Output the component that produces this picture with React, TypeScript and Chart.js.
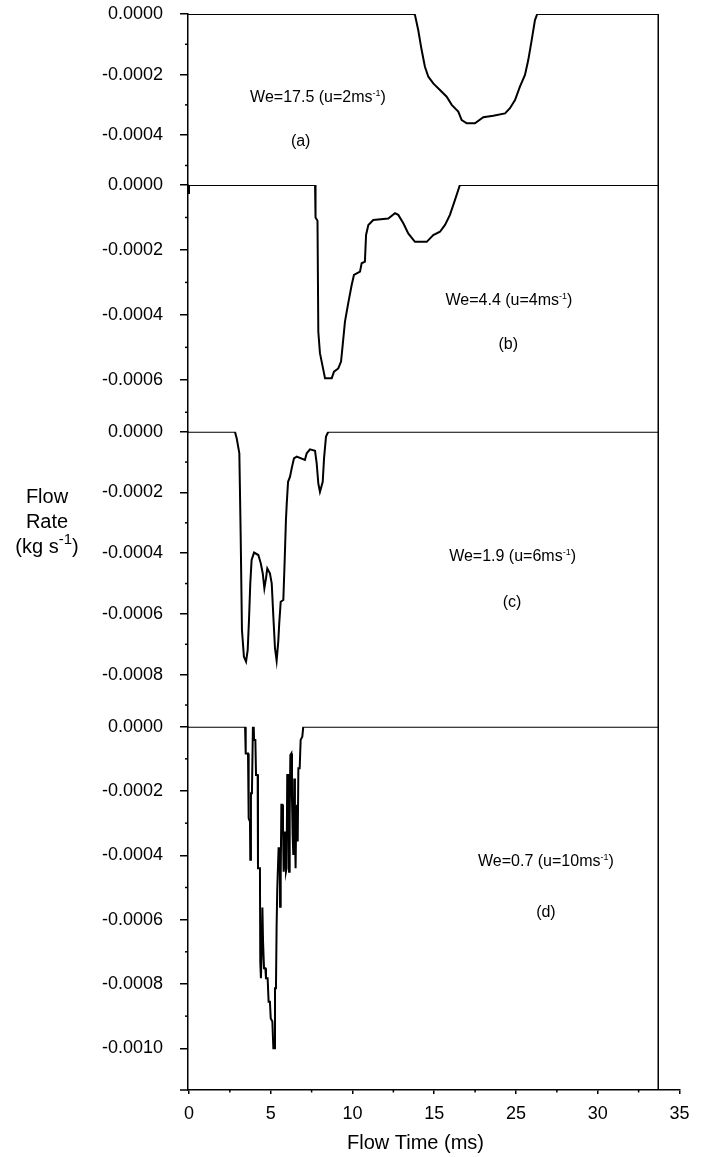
import { useEffect, useRef } from "react";
import { Chart, registerables } from "chart.js";

Chart.register(...registerables);

const FONT = '"Liberation Sans", Arial, Helvetica, sans-serif';

// x axis: evenly spaced tick positions, labels as printed in the figure
const xTickValues = [0, 5, 10, 15, 20, 25, 30];
const xTickLabels = ["0", "5", "10", "15", "25", "30", "35"];
const xMinorTicks = [2.5, 7.5, 12.5, 17.5, 22.5, 27.5];

// y ticks per panel
const yTicksA = [0, -0.0002, -0.0004];
const yTicksB = [0, -0.0002, -0.0004, -0.0006];
const yTicksC = [0, -0.0002, -0.0004, -0.0006, -0.0008];
const yTicksD = [0, -0.0002, -0.0004, -0.0006, -0.0008, -0.001];
const yMinorA = [-0.0001, -0.0003, -0.0005];
const yMinorB = [-0.0001, -0.0003, -0.0005, -0.0007];
const yMinorC = [-0.0001, -0.0003, -0.0005, -0.0007, -0.0009];
const yMinorD = [-0.0001, -0.0003, -0.0005, -0.0007, -0.0009];

// panel (a) We=17.5
const timeA = [-0.06, 13.72, 13.82, 14.02, 14.23, 14.43, 14.64, 14.94, 15.35, 15.76, 16.07, 16.47, 16.68, 16.99, 17.49, 18.0, 18.61, 19.33, 19.63, 19.94, 20.24, 20.55, 20.75, 20.96, 21.16, 21.3, 28.7];
const flowA = [0, 0, -0.000003, -0.000053, -0.000119, -0.000174, -0.000207, -0.000229, -0.000251, -0.000273, -0.0003, -0.000322, -0.00035, -0.000361, -0.000361, -0.000341, -0.000336, -0.000328, -0.000311, -0.000284, -0.00024, -0.000201, -0.000152, -0.000086, -0.00002, 0, 0];

// panel (b) We=4.4
const timeB = [-0.06, 0, 7.71, 7.74, 7.86, 7.91, 8.01, 8.18, 8.32, 8.73, 8.87, 9.13, 9.3, 9.4, 9.54, 9.74, 9.95, 10.09, 10.46, 10.56, 10.76, 10.83, 10.97, 11.27, 12.19, 12.6, 12.8, 13.11, 13.41, 13.82, 14.54, 14.94, 15.35, 15.66, 15.96, 16.27, 16.57, 28.7];
const flowB = [-0.000025, 0, 0, -0.0001, -0.00011, -0.000452, -0.000518, -0.00056, -0.000595, -0.000595, -0.000575, -0.000565, -0.000544, -0.000493, -0.000421, -0.000364, -0.000308, -0.000277, -0.000267, -0.000241, -0.000236, -0.000154, -0.000123, -0.000108, -0.000103, -0.000087, -0.000092, -0.000118, -0.000149, -0.000175, -0.000175, -0.000154, -0.000144, -0.000123, -0.000092, -0.000046, 0, 0];

// panel (c) We=1.9
const timeC = [-0.06, 2.81, 2.92, 3.08, 3.16, 3.24, 3.36, 3.49, 3.59, 3.67, 3.75, 3.83, 3.98, 4.24, 4.39, 4.51, 4.61, 4.71, 4.79, 4.95, 5.06, 5.16, 5.26, 5.36, 5.46, 5.52, 5.61, 5.77, 5.85, 5.93, 5.98, 6.06, 6.18, 6.28, 6.42, 6.59, 7.09, 7.2, 7.4, 7.71, 7.81, 7.91, 8.01, 8.18, 8.26, 8.38, 8.52, 28.7];
const flowC = [0, 0, -0.000022, -0.000071, -0.000335, -0.000653, -0.000741, -0.000757, -0.000719, -0.00062, -0.000499, -0.000422, -0.000398, -0.000406, -0.000433, -0.000466, -0.000516, -0.000483, -0.00045, -0.000466, -0.000499, -0.000609, -0.000713, -0.000754, -0.000691, -0.000631, -0.00056, -0.000554, -0.000428, -0.000291, -0.000236, -0.000165, -0.000148, -0.000121, -0.000088, -0.000082, -0.000093, -0.000071, -0.000058, -0.000063, -0.000104, -0.00017, -0.000198, -0.000165, -0.000088, -0.000016, 0, 0];

// panel (d) We=0.7
const timeD = [-0.06, 3.43, 3.47, 3.61, 3.63, 3.67, 3.73, 3.75, 3.79, 3.85, 3.91, 3.96, 3.98, 4.06, 4.1, 4.2, 4.22, 4.34, 4.36, 4.4, 4.46, 4.49, 4.53, 4.59, 4.67, 4.71, 4.81, 4.87, 4.95, 5.0, 5.1, 5.16, 5.22, 5.26, 5.32, 5.36, 5.4, 5.48, 5.55, 5.57, 5.61, 5.65, 5.71, 5.75, 5.79, 5.83, 5.87, 5.93, 5.97, 6.01, 6.08, 6.12, 6.16, 6.2, 6.26, 6.3, 6.34, 6.38, 6.44, 6.48, 6.52, 6.56, 6.61, 6.65, 6.69, 6.77, 6.83, 6.93, 6.99, 28.7];
const flowD = [0, 0, -0.000083, -0.000083, -0.000192, -0.000285, -0.000295, -0.000414, -0.000207, -0.000207, 0, 0, -0.000041, -0.000041, -0.00015, -0.00015, -0.00044, -0.00044, -0.000731, -0.000782, -0.000668, -0.000562, -0.000668, -0.000751, -0.000751, -0.000782, -0.000782, -0.000855, -0.000855, -0.000907, -0.000917, -0.001, -0.001, -0.000813, -0.000813, -0.000617, -0.000503, -0.000378, -0.000378, -0.00056, -0.000461, -0.000243, -0.000243, -0.000306, -0.000451, -0.000409, -0.000326, -0.000451, -0.00044, -0.00015, -0.00015, -0.000451, -0.000275, -0.000088, -0.000083, -0.000223, -0.000337, -0.000399, -0.000161, -0.000326, -0.00044, -0.000275, -0.000243, -0.000357, -0.000129, -0.000129, -0.000041, -0.000031, 0, 0];

// right-hand frame line
const frameTime = [28.7, 28.7];
const frameLevel = [0, 1];

// annotations
const panelAxes = ["yA", "yB", "yC", "yD"];
const weberMain = ["We=17.5 (u=2ms", "We=4.4 (u=4ms", "We=1.9 (u=6ms", "We=0.7 (u=10ms"];
const weberX = [7.89, 19.57, 19.79, 21.83];
const weberY = [-0.000277, -0.000357, -0.000412, -0.000421];
const panelLetters = ["(a)", "(b)", "(c)", "(d)"];
const letterX = [6.83, 19.53, 19.76, 21.83];
const letterY = [-0.000422, -0.000491, -0.000563, -0.000579];

const yTitleLines = ["Flow", "Rate", "(kg s"];
const xTitle = "Flow Time (ms)";

const pts = (xs: number[], ys: number[]) => xs.map((x, i) => ({ x, y: ys[i] }));

const panelAxis = (min: number, ticks: number[], weight: number, stackWeight: number) => ({
  type: "linear",
  position: "left",
  stack: "flow",
  stackWeight,
  weight,
  min,
  max: 0,
  afterBuildTicks: (s: any) => {
    s.ticks = ticks.map((v) => ({ value: v }));
  },
  afterFit: (s: any) => {
    s.width = 188;
    s.paddingTop = 0;
    s.paddingBottom = 0;
  },
  border: { display: true, color: "#000", width: 1.5 },
  grid: { drawOnChartArea: false, drawTicks: true, tickLength: 8, color: "#000", lineWidth: 1.5 },
  ticks: {
    color: "#000",
    padding: 17,
    font: { family: FONT, size: 18 },
    callback: (v: any) => Number(v).toFixed(4),
  },
});

const minorMap: [string, number[]][] = [
  ["yA", yMinorA],
  ["yB", yMinorB],
  ["yC", yMinorC],
  ["yD", yMinorD],
];

const drawSup = (ctx: CanvasRenderingContext2D, cx: number, cy: number, main: string, sup: string, tail: string, size: number, supSize: number, rise: number, baseline: CanvasTextBaseline) => {
  ctx.textAlign = "left";
  ctx.textBaseline = baseline;
  ctx.font = `${size}px ${FONT}`;
  const wMain = ctx.measureText(main).width;
  const wTail = ctx.measureText(tail).width;
  ctx.font = `${supSize}px ${FONT}`;
  const wSup = ctx.measureText(sup).width;
  let x = cx - (wMain + wSup + wTail) / 2;
  ctx.font = `${size}px ${FONT}`;
  ctx.fillText(main, x, cy);
  x += wMain;
  ctx.font = `${supSize}px ${FONT}`;
  ctx.fillText(sup, x, cy - rise);
  x += wSup;
  ctx.font = `${size}px ${FONT}`;
  ctx.fillText(tail, x, cy);
};

const overlay = {
  id: "overlay",
  afterDraw(chart: any) {
    const ctx: CanvasRenderingContext2D = chart.ctx;
    const xs = chart.scales.x;
    ctx.save();
    ctx.strokeStyle = "#000";
    ctx.fillStyle = "#000";
    ctx.lineWidth = 1.5;
    // minor ticks on y axes
    for (const [id, minors] of minorMap) {
      const s = chart.scales[id];
      for (const v of minors) {
        const py = s.getPixelForValue(v);
        ctx.beginPath();
        ctx.moveTo(s.right - 3, py);
        ctx.lineTo(s.right, py);
        ctx.stroke();
      }
    }
    // minor ticks on x axis
    for (const v of xMinorTicks) {
      const px = xs.getPixelForValue(v);
      ctx.beginPath();
      ctx.moveTo(px, xs.top);
      ctx.lineTo(px, xs.top + 2.5);
      ctx.stroke();
    }
    // x axis line continues left past the y axis
    ctx.beginPath();
    ctx.moveTo(xs.left - 8, xs.top);
    ctx.lineTo(xs.left, xs.top);
    ctx.stroke();

    // panel annotations
    for (let i = 0; i < 4; i++) {
      const ys = chart.scales[panelAxes[i]];
      drawSup(ctx, xs.getPixelForValue(weberX[i]), ys.getPixelForValue(weberY[i]), weberMain[i], "-1", ")", 16, 9, 4.5, "middle");
      ctx.font = `16px ${FONT}`;
      ctx.textAlign = "center";
      ctx.textBaseline = "middle";
      ctx.fillText(panelLetters[i], xs.getPixelForValue(letterX[i]), ys.getPixelForValue(letterY[i]));
    }

    // y title (horizontal, three lines)
    const ca = chart.chartArea;
    const tx = ca.left - 141;
    ctx.font = `20px ${FONT}`;
    ctx.textAlign = "center";
    ctx.textBaseline = "alphabetic";
    ctx.fillText(yTitleLines[0], tx, 502.7);
    ctx.fillText(yTitleLines[1], tx, 527.7);
    drawSup(ctx, tx, 552.7, yTitleLines[2], "-1", ")", 20, 15, 8.5, "alphabetic");

    // x title
    ctx.font = `20px ${FONT}`;
    ctx.textAlign = "center";
    ctx.textBaseline = "alphabetic";
    ctx.fillText(xTitle, 415.5, 1149.3);
    ctx.restore();
  },
};

const lineStyle = {
  borderColor: "#000",
  borderWidth: 2,
  pointRadius: 0,
  tension: 0,
  fill: false,
};

export default function App() {
  const ref = useRef<HTMLCanvasElement>(null);
  useEffect(() => {
    const chart = new Chart(ref.current as HTMLCanvasElement, {
      type: "line",
      data: {
        datasets: [
          { ...lineStyle, label: "a", data: pts(timeA, flowA), yAxisID: "yA" },
          { ...lineStyle, label: "b", data: pts(timeB, flowB), yAxisID: "yB" },
          { ...lineStyle, label: "c", data: pts(timeC, flowC), yAxisID: "yC" },
          { ...lineStyle, label: "d", data: pts(timeD, flowD), yAxisID: "yD" },
          { ...lineStyle, borderWidth: 1.5, label: "frame", data: pts(frameTime, frameLevel), yAxisID: "yFull" },
        ],
      } as any,
      options: {
        animation: false,
        responsive: false,
        devicePixelRatio: 1,
        layout: { padding: { top: 14, right: 21.5, left: 0, bottom: 0 } },
        plugins: { legend: { display: false }, tooltip: { enabled: false } },
        scales: {
          x: {
            type: "linear",
            position: "bottom",
            min: -0.06,
            max: 30,
            afterBuildTicks: (s: any) => {
              s.ticks = xTickValues.map((v) => ({ value: v }));
            },
            afterFit: (s: any) => {
              s.height = 67;
            },
            border: { display: true, color: "#000", width: 1.5 },
            grid: { drawOnChartArea: false, tickLength: 4, color: "#000", lineWidth: 1.5 },
            ticks: {
              color: "#000",
              padding: 9,
              maxRotation: 0,
              autoSkip: false,
              font: { family: FONT, size: 18 },
              callback: (v: any) => xTickLabels[xTickValues.indexOf(Number(v))] ?? "",
            },
          },
          yA: panelAxis(-0.0005644, yTicksA, 4, 171),
          yB: panelAxis(-0.0007598, yTicksB, 3, 246.7),
          yC: panelAxis(-0.0009713, yTicksC, 2, 295),
          yD: panelAxis(-0.0011297, yTicksD, 1, 363.3),
          yFull: { type: "linear", position: "right", display: false, min: 0, max: 1 },
        },
      } as any,
      plugins: [overlay],
    });
    return () => chart.destroy();
  }, []);
  return (
    <div style={{ position: "absolute", left: 0, top: 0, width: 701, height: 1157, background: "#fff" }}>
      <canvas ref={ref} width={701} height={1157} style={{ display: "block", width: 701, height: 1157 }} />
    </div>
  );
}
